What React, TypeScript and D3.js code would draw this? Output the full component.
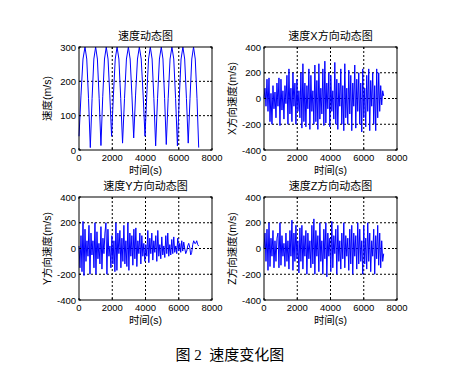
import React from "react";
import * as d3 from "d3";

// ---- Data ----
const xTicks = [0, 2000, 4000, 6000, 8000];
const speedTicks = [0, 100, 200, 300];
const compTicks = [-400, -200, 0, 200, 400];

const speedTime = [
  0, 120, 240, 360, 467, 573, 680, 787, 893, 1000, 1107, 1213, 1320, 1427, 1533, 1640,
  1747, 1853, 1960, 2070, 2180, 2290, 2400, 2510, 2620, 2737, 2853, 2970, 3077, 3183, 3290,
  3403, 3517, 3630, 3743, 3857, 3970, 4077, 4183, 4290, 4397, 4503, 4610, 4723, 4837, 4950,
  5050, 5150, 5250, 5363, 5477, 5590, 5700, 5810, 5920, 6030, 6140, 6250, 6357, 6463, 6570,
  6677, 6783, 6890, 6993, 7097, 7200,
];
const speedValue = [
  40, 160, 265, 300, 265, 150, 7, 150, 265, 300, 265, 150, 13, 155, 265, 300,
  265, 160, 40, 160, 265, 300, 265, 150, 20, 150, 265, 300, 265, 160, 35,
  160, 265, 300, 265, 160, 40, 160, 265, 300, 265, 150, 12, 150, 265, 300,
  265, 150, 16, 150, 265, 300, 265, 150, 12, 150, 265, 300, 265, 150, 20,
  150, 265, 300, 265, 150, 7,
];

// component series sampled every 60 s, 0..7200
const compTime = d3.range(0, 7201, 60);
const velX = [
  0, 80, -60, 150, -100, 160, -180, 40, -200, 100, -80, 50, -150, 120, -60, 160, -210, 150, -90, 60,
  -160, 100, -40, 180, -200, 230, -120, 80, -180, 200, -60, 120, -200, 150, -100, 60, -150, 200, -230, 270,
  -180, 120, -220, 100, -80, 230, -240, 180, -100, 60, -200, 260, -180, 140, -240, 270, -160, 80, -120, 230,
  -210, 290, -190, 120, -80, 200, -220, 180, -100, 60, -160, 280, -200, 150, -240, 120, -60, 230, -200, 100,
  -250, 270, -150, 80, -200, 220, -120, 180, -250, 120, -60, 260, -230, 150, -100, 200, -200, 120, -260, 230,
  -150, 80, -220, 180, -100, 230, -250, 140, -60, 200, -200, 100, -250, 230, -150, 200, -100, 100, -50, 60, 20,
];
const velY = [
  20, -150, 100, -180, 210, -210, 150, -100, 60, -60, 180, -200, 120, -50, 60, -150, 200, -200, 130, -80,
  40, -120, 170, -160, 80, -40, 120, 200, -200, 150, -60, 20, -150, 100, -120, 60, -180, 200, -170, 120,
  -40, 140, -150, 80, -100, 180, -120, 60, -140, 200, -170, 120, -60, 100, -130, 150, -80, 160, -140, 60,
  -40, 120, -120, 100, -60, 40, -100, 30, -60, 140, -110, 80, -40, 120, -90, 60, -30, 100, -100, 140,
  -60, 30, -80, 90, -50, 20, -70, 100, -40, 120, -60, 30, -50, 70, -40, 90, -30, 20, -40, 80,
  -20, 40, -30, 60, -20, 50, 0, -40, -20, 20, 40, 10, -50, -30, 30, 60, 40, 40, 60, 30, 20,
];
const velZ = [
  0, 120, -100, 150, -170, 200, -140, 80, -60, 140, -150, 60, -100, 80, 120, -150, 200, -130, 100, -60,
  40, -140, 120, -100, 60, -160, 140, -60, 220, -170, 120, -100, 180, -80, 60, -190, 160, -100, 180, -160,
  100, -60, 140, -200, 120, -80, 60, -150, 180, -120, 230, -200, 140, -60, 100, -180, 200, -100, 60, -200,
  150, -80, 200, -220, 120, -60, 80, -180, 210, -150, 100, -40, 150, -200, 180, -100, 60, -160, 120, -80,
  200, -150, 100, -60, 80, -170, 150, -120, 180, -200, 120, -60, 100, -160, 200, -120, 150, -100, 60, -200,
  180, -120, 80, -160, 200, -100, 120, -180, 60, -60, 150, -200, 100, -80, 180, -130, 120, -150, 60, -100, -40,
];

type Panel = {
  title: string;
  ylabel: string;
  left: number;
  top: number;
  yDomain: [number, number];
  yTicks: number[];
  t: number[];
  v: number[];
};

const W = 133;
const H = 103;

const panels: Panel[] = [
  { title: "速度动态图", ylabel: "速度(m/s)", left: 79, top: 47, yDomain: [0, 300], yTicks: speedTicks, t: speedTime, v: speedValue },
  { title: "速度X方向动态图", ylabel: "X方向速度(m/s)", left: 264, top: 47, yDomain: [-400, 400], yTicks: compTicks, t: compTime, v: velX },
  { title: "速度Y方向动态图", ylabel: "Y方向速度(m/s)", left: 79, top: 197, yDomain: [-400, 400], yTicks: compTicks, t: compTime, v: velY },
  { title: "速度Z方向动态图", ylabel: "Z方向速度(m/s)", left: 264, top: 197, yDomain: [-400, 400], yTicks: compTicks, t: compTime, v: velZ },
];

const SANS = "'Liberation Sans', Arial, 'Noto Sans CJK SC', sans-serif";

function PanelView({ p }: { p: Panel }) {
  const x = d3.scaleLinear().domain([0, 8000]).range([0, W]);
  const y = d3.scaleLinear().domain(p.yDomain).range([H, 0]);
  const line = d3
    .line<number>()
    .x((_, i) => x(p.t[i]))
    .y((d) => y(d));
  const gridY = p.yTicks.slice(1, -1);
  const gridX = xTicks.slice(1, -1);
  return (
    <g transform={`translate(${p.left},${p.top})`}>
      <rect x={0} y={0} width={W} height={H} fill="#fff" />
      {gridX.map((t) => (
        <line key={"gx" + t} x1={x(t)} x2={x(t)} y1={0} y2={H} stroke="#000" strokeWidth={1} strokeDasharray="2,2" />
      ))}
      {gridY.map((t) => (
        <line key={"gy" + t} x1={0} x2={W} y1={y(t)} y2={y(t)} stroke="#000" strokeWidth={1} strokeDasharray="2,2" />
      ))}
      <path d={line(p.v) || ""} fill="none" stroke="#0000ff" strokeWidth={1} strokeLinejoin="round" />
      <rect x={0} y={0} width={W} height={H} fill="none" stroke="#000" strokeWidth={1} />
      {xTicks.map((t) => (
        <g key={"xt" + t}>
          <line x1={x(t)} x2={x(t)} y1={H} y2={H - 2} stroke="#000" />
          <line x1={x(t)} x2={x(t)} y1={0} y2={2} stroke="#000" />
          <text x={x(t)} y={H + 11} textAnchor="middle" fontSize={9.5} fontFamily={SANS} fill="#000">
            {t}
          </text>
        </g>
      ))}
      {p.yTicks.map((t) => (
        <g key={"yt" + t}>
          <line x1={0} x2={2} y1={y(t)} y2={y(t)} stroke="#000" />
          <line x1={W} x2={W - 2} y1={y(t)} y2={y(t)} stroke="#000" />
          <text x={-3} y={y(t) + 3.5} textAnchor="end" fontSize={9.5} fontFamily={SANS} fill="#000">
            {t}
          </text>
        </g>
      ))}
      <text x={W / 2} y={-7.5} textAnchor="middle" fontSize={11} fontFamily={SANS} fill="#000">
        {p.title}
      </text>
      <text x={W / 2} y={H + 24} textAnchor="middle" fontSize={10.5} fontFamily={SANS} fill="#000">
        {"时间(s)"}
      </text>
      <text
        transform={`translate(${-28},${H / 2}) rotate(-90)`}
        textAnchor="middle"
        fontSize={10.5}
        fontFamily={SANS}
        fill="#000"
      >
        {p.ylabel}
      </text>
    </g>
  );
}

export default function App() {
  return (
    <svg
      width={458}
      height={381}
      style={{ position: "absolute", left: 0, top: 0, background: "#fff" }}
    >
      <rect width={458} height={381} fill="#fff" />
      {panels.map((p) => (
        <PanelView key={p.title} p={p} />
      ))}
      <text
        x={230}
        y={360}
        textAnchor="middle"
        fontSize={15}
        fontFamily="'Liberation Serif', 'Noto Sans CJK SC', serif"
        fill="#000"
        style={{ whiteSpace: "pre" }}
      >
        {"图 2  速度变化图"}
      </text>
    </svg>
  );
}
